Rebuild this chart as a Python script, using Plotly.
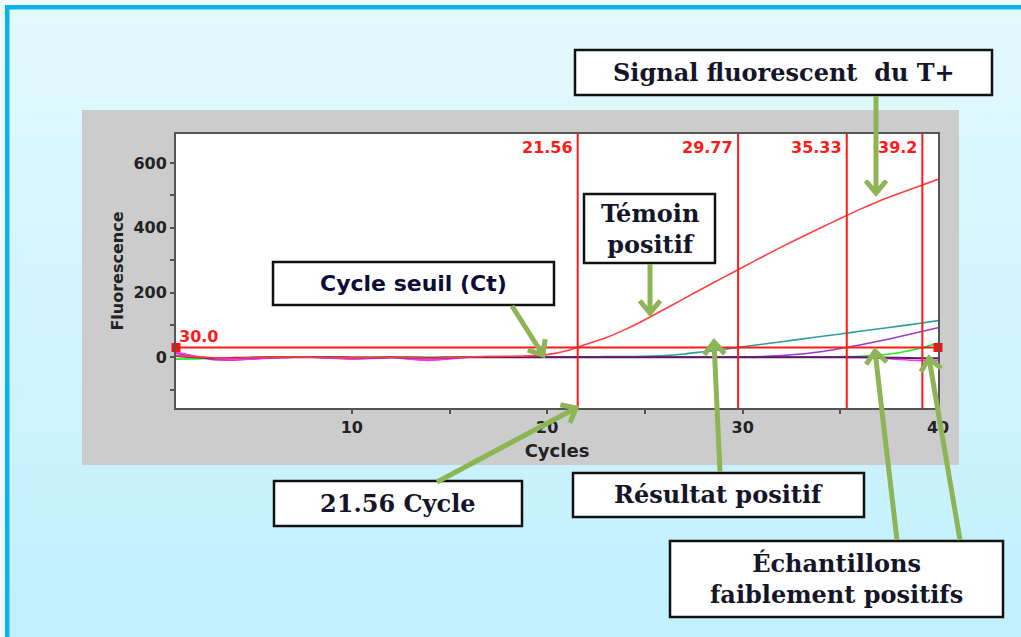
import math
import plotly.graph_objects as go

# ---- data -------------------------------------------------------------
cycles = list(range(1, 41))

# positive control (T+)
tplus = [5, 1, -2, -3, -1, 0, 1, 0, -1, -2, -1, 0, -1, -3, -1, 1, 2, 3, 4, 8,
         20, 40, 60, 86, 116, 148, 181, 214, 246, 278, 310, 341, 371, 400, 429,
         457, 483, 506, 528, 550]
# positive sample
teal = [3, 0, -3, -4, -2, -1, 0, 0, -1, -3, -2, -1, -2, -4, -2, 0, 0, 1, 1, 1,
        1, 1, 2, 2, 3, 5, 10, 17, 24, 32, 40, 48, 56, 64, 72, 80, 88, 96, 104, 113]
# weakly positive samples
purple = [12, 2, -8, -9, -5, -2, 0, 1, -2, -5, -3, 0, -5, -9, -4, 1, 2, 1, 0, 0,
          0, 0, 0, 0, 0, 0, 0, 0, 0, 1, 2, 5, 10, 17, 27, 38, 50, 63, 77, 91]
green = [-6, -5, -3, -2, -1, 0, 0, 0, 0, -1, -1, 0, 0, -1, 0, 0, 0, 0, 0, 0,
         0, 0, 0, 0, 0, 0, 0, 0, 0, 0, 0, 0, 1, 1, 2, 3, 7, 14, 27, 43]
# negatives
magenta = [16, 3, -6, -8, -5, -2, 0, 0, -3, -6, -4, -1, -6, -10, -5, 0, 1, 0, 0, 0,
           0, 0, 0, 0, 0, 0, 0, 0, 0, 0, 0, 0, 0, 0, 0, -1, -3, -7, -10, -10]
darkline = [4, 0, -3, -2, -1, 0, 0, 0, 0, -1, -1, 0, -1, -2, -1, 0, 0, 0, 0, 0,
            0, 0, 0, 0, 0, 0, 0, 0, 0, 0, 0, 0, 0, 0, 0, 0, -1, -2, -3, -3]

threshold = 30.0
ct_values = [21.56, 29.77, 35.33, 39.2]
ct_labels = ["21.56", "29.77", "35.33", "39.2"]

x_range = [1, 40]
y_range = [-157, 690]
x_major = [10, 20, 30, 40]
x_minor = [15, 25, 35]

# ---- figure geometry (pixels) -----------------------------------------
W, H = 1021, 637
L, R, T, B = 176, 938, 134, 408


def px(x, y):
    """pixel position -> paper coordinates"""
    return (x - L) / (R - L), (B - y) / (B - T)


def rect(x0, y0, x1, y1, fill, line_color=None, line_width=0, layer="below"):
    a = px(x0, y0)
    b = px(x1, y1)
    return dict(type="rect", xref="paper", yref="paper",
                x0=a[0], y0=b[1], x1=b[0], y1=a[1],
                fillcolor=fill, layer=layer,
                line=dict(color=line_color or fill, width=line_width))


def arrow(x0, y0, x1, y1, color="#8db556", width=5, arm=16):
    ang = math.atan2(y1 - y0, x1 - x0)
    pts = []
    for d in (math.radians(140), math.radians(-140)):
        pts.append((x1 + arm * math.cos(ang + d), y1 + arm * math.sin(ang + d)))

    def p(x, y):
        q = px(x, y)
        return f"{q[0]:.5f},{q[1]:.5f}"

    path = (f"M{p(x0, y0)} L{p(x1, y1)} "
            f"M{p(*pts[0])} L{p(x1, y1)} L{p(*pts[1])}")
    return dict(type="path", xref="paper", yref="paper", path=path,
                line=dict(color=color, width=width), layer="above")


shapes = []

# page background: light cyan gradient
top_c = (226, 249, 254)
bot_c = (193, 240, 254)
N = 40
y_start, y_end = 9, 637
for i in range(N):
    t = i / (N - 1)
    c = tuple(round(top_c[k] + (bot_c[k] - top_c[k]) * t) for k in range(3))
    ya = y_start + (y_end - y_start) * i / N
    yb = y_start + (y_end - y_start) * (i + 1) / N + 0.6
    shapes.append(rect(9, ya, W, yb, "rgb(%d,%d,%d)" % c))

# blue frame (left and top)
shapes.append(rect(5, 5, 9.5, H, "#0bb3ec"))
shapes.append(rect(5, 5, W, 9.5, "#0bb3ec"))

# grey instrument panel and white plotting area
shapes.append(rect(82, 110, 959, 465, "#cccccc"))
shapes.append(rect(L, T, R, B, "#ffffff"))

# Ct vertical lines
for ct in ct_values:
    shapes.append(dict(type="line", xref="x", yref="paper", x0=ct, x1=ct,
                       y0=0, y1=1, line=dict(color="#ff1a1a", width=2),
                       layer="above"))

# annotation boxes
boxes = [
    (575, 50, 992, 95),     # Signal fluorescent du T+
    (584, 194, 715, 263),   # Témoin positif
    (273, 262, 554, 305),   # Cycle seuil (Ct)
    (274, 481, 522, 526),   # 21.56 Cycle
    (573, 473, 864, 517),   # Résultat positif
    (670, 541, 1003, 617),  # Échantillons faiblement positifs
]
for (x0, y0, x1, y1) in boxes:
    shapes.append(rect(x0, y0, x1, y1, "white", "#111111", 2.5, layer="above"))

# arrows
shapes += [
    arrow(876, 96, 876, 193),
    arrow(650, 264, 650, 313),
    arrow(512, 306, 543, 355),
    arrow(437, 482, 576, 408),
    arrow(720, 472, 714, 342),
    arrow(897, 540, 875, 351),
    arrow(960, 540, 929, 358),
]

# ---- traces -----------------------------------------------------------
fig = go.Figure()

series = [
    (teal, "#2f9e9b", 1.6),
    (purple, "#9a3cc4", 1.6),
    (green, "#22ee22", 1.6),
    (magenta, "#ff33ff", 1.6),
    (darkline, "#5b1466", 2.0),
    (tplus, "#ff4040", 1.6),
]
for vals, col, w in series:
    fig.add_trace(go.Scatter(x=cycles, y=vals, mode="lines",
                             line=dict(color=col, width=w, shape="spline",
                                       smoothing=0.6),
                             showlegend=False, hoverinfo="skip"))

# threshold line with end handles
fig.add_trace(go.Scatter(x=x_range, y=[threshold, threshold], mode="lines+markers",
                         line=dict(color="#ff1a1a", width=2),
                         marker=dict(symbol="square", size=9, color="#ff1010"),
                         cliponaxis=False, showlegend=False, hoverinfo="skip"))

# ---- annotations ------------------------------------------------------
annotations = []
red_font = dict(family="DejaVu Sans", size=16, color="#ff1a1a", weight="bold")
for ct, lab in zip(ct_values, ct_labels):
    annotations.append(dict(x=ct, y=px(0, 147)[1], xref="x", yref="paper",
                            text=lab, showarrow=False, xanchor="right",
                            yanchor="middle", xshift=-3, font=red_font))
annotations.append(dict(x=x_range[0], y=threshold, xref="x", yref="y",
                        text="%.1f" % threshold, showarrow=False,
                        xanchor="left", yanchor="bottom", xshift=1, yshift=0,
                        font=red_font))

box_font = dict(family="DejaVu Serif", size=24, color="#15152a", weight="bold")
sans_font = dict(family="DejaVu Sans", size=22, color="#0c0c38", weight="bold")
texts = [
    ("Signal fluorescent  du T+", 0, box_font),
    ("Témoin<br>positif", 1, box_font),
    ("Cycle seuil (Ct)", 2, sans_font),
    ("21.56 Cycle", 3, box_font),
    ("Résultat positif", 4, box_font),
    ("Échantillons<br>faiblement positifs", 5, box_font),
]
for txt, i, f in texts:
    x0, y0, x1, y1 = boxes[i]
    cx, cy = px((x0 + x1) / 2, (y0 + y1) / 2)
    annotations.append(dict(x=cx, y=cy, xref="paper", yref="paper", text=txt,
                            showarrow=False, xanchor="center", yanchor="middle",
                            font=f))

axis_font = dict(family="DejaVu Sans", size=16, color="#222222", weight="bold")

fig.update_layout(
    width=W, height=H, autosize=False,
    margin=dict(l=L, r=W - R, t=T, b=H - B, pad=0),
    paper_bgcolor="#eefafd",
    plot_bgcolor="rgba(0,0,0,0)",
    shapes=shapes,
    annotations=annotations,
    showlegend=False,
    xaxis=dict(range=x_range, showgrid=False, zeroline=False,
               tickmode="array", tickvals=x_major,
               ticks="outside", ticklen=4, tickwidth=2, tickcolor="#555555",
               minor=dict(ticks="outside", tickmode="array", tickvals=x_minor,
                          ticklen=4, tickwidth=2, tickcolor="#555555"),
               showline=True, linecolor="#555555", linewidth=2, mirror=True,
               tickfont=axis_font, automargin=False,
               title=dict(text="Cycles", standoff=8,
                          font=dict(family="DejaVu Sans", size=18,
                                    color="#222222", weight="bold"))),
    yaxis=dict(range=y_range, showgrid=False, zeroline=False,
               tickmode="linear", tick0=0, dtick=200,
               ticks="outside", ticklen=4, tickwidth=2, tickcolor="#555555",
               minor=dict(ticks="outside", dtick=100, tick0=0, ticklen=4,
                          tickwidth=2, tickcolor="#555555"),
               showline=True, linecolor="#555555", linewidth=2, mirror=True,
               tickfont=axis_font, automargin=False,
               title=dict(text="Fluorescence", standoff=6,
                          font=dict(family="DejaVu Sans", size=16,
                                    color="#222222", weight="bold"))),
)

fig.write_html("out.html")
